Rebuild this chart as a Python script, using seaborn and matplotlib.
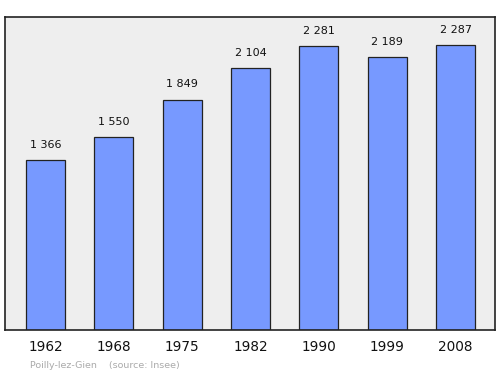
import matplotlib
matplotlib.use("Agg")
import matplotlib.pyplot as plt
import seaborn as sns
import pandas as pd

years = ["1962", "1968", "1975", "1982", "1990", "1999", "2008"]
population = [1366, 1550, 1849, 2104, 2281, 2189, 2287]
value_labels = ["1 366", "1 550", "1 849", "2 104", "2 281", "2 189", "2 287"]
footer = "Poilly-lez-Gien    (source: Insee)"

sns.set_style("white")
plt.rcParams['font.family'] = ['DejaVu Sans']

df = pd.DataFrame({"year": years, "pop": population})

fig = plt.figure(figsize=(5.0, 3.74), dpi=100)
ax = fig.add_axes([5/500, 1 - 330/374, 490/500, 313/374])
ax.set_facecolor("#eeeeee")
sns.barplot(data=df, x="year", y="pop", ax=ax, color="#7799ff", saturation=1,
            width=0.57, edgecolor="#222222", linewidth=0.9)
ax.set_xlim(-0.593, 6.578)
ax.set_ylim(0, 2514)
for i, (v, lab) in enumerate(zip(population, value_labels)):
    ax.annotate(lab, (i, v), xytext=(0, 7.5), textcoords="offset points",
                ha="center", va="bottom", fontsize=8.0, color="#111111")
ax.set_yticks([])
ax.set_xlabel("")
ax.set_ylabel("")
ax.tick_params(axis="x", length=0, pad=7, labelsize=9.8, colors="#111111")
for s in ax.spines.values():
    s.set_color("#222222")
    s.set_linewidth(1.2)
    s.set_visible(True)
fig.text(30/500, 1 - 365/374, footer, fontsize=6.8, color="#aaaaaa", va="center", ha="left")
fig.savefig("out.png", dpi=100)
